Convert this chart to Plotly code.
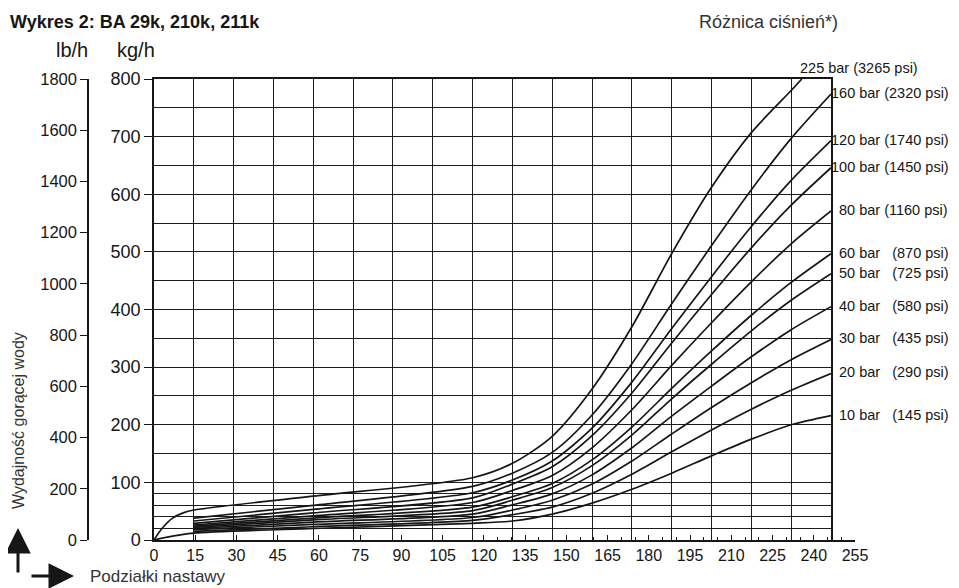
import plotly.graph_objects as go

# ---------------- data ----------------
x_ticks = list(range(0, 256, 15))              # Podziałki nastawy
x_minor = [v for v in range(125, 255, 5) if v % 15 != 0]
kg_ticks = list(range(0, 801, 100))            # kg/h
lb_ticks = list(range(0, 1801, 200))           # lb/h
kg_minor = [20, 40, 60, 80, 150, 250, 350, 450, 550, 650, 750]

bars = [225, 160, 120, 100, 80, 60, 50, 40, 30, 20, 10]
psi = [3265, 2320, 1740, 1450, 1160, 870, 725, 580, 435, 290, 145]

x_225 = [0, 3, 7, 11, 15, 60, 120, 135, 150, 165, 180, 195, 210, 225, 240, 244]
y_225 = [0, 20, 38, 47, 52, 76, 108, 133, 180, 262, 370, 497, 612, 707, 780, 800]

x_std = [15, 60, 120, 135, 150, 165, 180, 195, 210, 225, 240, 255]
y_160 = [38, 60, 93, 116, 152, 217, 306, 410, 511, 608, 697, 774]
y_120 = [33, 53, 82, 104, 137, 194, 274, 367, 457, 544, 624, 693]
y_100 = [29, 47, 73, 97, 127, 181, 255, 342, 426, 507, 581, 646]
y_80 = [26, 42, 65, 86, 112, 160, 226, 303, 377, 448, 514, 571]
y_60 = [24, 38, 57, 75, 98, 139, 196, 263, 328, 390, 447, 497]
y_50 = [22, 35, 51, 69, 91, 129, 182, 245, 305, 363, 416, 462]
y_40 = [20, 31, 45, 61, 80, 113, 160, 215, 267, 318, 365, 405]
y_30 = [18, 27, 39, 52, 69, 97, 137, 184, 230, 273, 313, 348]
y_20 = [15, 23, 34, 44, 57, 81, 114, 153, 191, 227, 260, 289]

x_10 = [0, 5, 10, 15, 60, 120, 135, 150, 165, 180, 195, 210, 225, 240, 255]
y_10 = [0, 5, 9, 12, 20, 29, 33, 45, 64, 88, 116, 146, 175, 200, 216]

series_x = [x_225, x_std, x_std, x_std, x_std, x_std, x_std, x_std, x_std, x_std, x_10]
series_y = [y_225, y_160, y_120, y_100, y_80, y_60, y_50, y_40, y_30, y_20, y_10]

# ---------------- layout geometry (page pixels; body has 8px margin) ----------------
OFF = 8
W, H = 959 - OFF, 588 - OFF
P_L, P_R, P_T, P_B = 30, 855, 79, 540      # paper box in page pixels
ML, MR, MT, MB = P_L - OFF, W - (P_R - OFF), P_T - OFF, H - (P_B - OFF)
PW = P_R - P_L
PH = P_B - P_T


def px_x(p):
    return (p - P_L) / PW


def px_y(p):
    return (P_B - p) / PH


INK = "#161616"
GRIDC = "#1c1c1c"
x0 = px_x(154)
x1 = px_x(831)

fig = go.Figure()

for xs, ys, b in zip(series_x, series_y, bars):
    fig.add_trace(go.Scatter(
        x=xs, y=ys, mode="lines", xaxis="x2", yaxis="y",
        line=dict(color=INK, width=1.7, shape="spline", smoothing=0.8),
        showlegend=False, hoverinfo="skip", name=f"{b} bar"))

# helper traces so that every axis is drawn
fig.add_trace(go.Scatter(x=[None], y=[None], xaxis="x", yaxis="y3",
                         mode="lines", showlegend=False, hoverinfo="skip"))
fig.add_trace(go.Scatter(x=[None], y=[None], xaxis="x2", yaxis="y2",
                         mode="lines", showlegend=False, hoverinfo="skip"))

annotations = []
for xs, ys, b, p in zip(series_x, series_y, bars, psi):
    if b >= 80:
        txt = f"{b} bar ({p} psi)"
    else:
        txt = f"{b} bar\u00a0\u00a0\u00a0({p} psi)"
    if b == 225:
        annotations.append(dict(x=xs[-1], y=ys[-1], xref="x2", yref="y",
                                text=txt, showarrow=False, xanchor="left",
                                yanchor="middle", xshift=-4, yshift=11,
                                font=dict(size=14.5, color=INK)))
    else:
        annotations.append(dict(x=xs[-1], y=ys[-1], xref="x2", yref="y",
                                text=txt, showarrow=False, xanchor="left",
                                yanchor="middle",
                                xshift=(-2 if b >= 100 else 6), yshift=1,
                                font=dict(size=14.5, color=INK)))

annotations += [
    dict(x=px_x(72), y=px_y(50), xref="paper", yref="paper", text="lb/h",
         xanchor="center", yanchor="middle", showarrow=False,
         font=dict(size=20, color=INK)),
    dict(x=px_x(136), y=px_y(50), xref="paper", yref="paper", text="kg/h",
         xanchor="center", yanchor="middle", showarrow=False,
         font=dict(size=20, color=INK)),
    dict(x=px_x(768), y=px_y(22), xref="paper", yref="paper",
         text="Różnica ciśnień*)", xanchor="center", yanchor="middle",
         showarrow=False, font=dict(size=18, color="#333")),
    dict(x=px_x(19), y=px_y(421), xref="paper", yref="paper",
         text="Wydajność gorącej wody", textangle=-90, xanchor="center",
         yanchor="middle", showarrow=False,
         font=dict(size=16, color="#333")),
    dict(x=px_x(88), y=px_y(576), xref="paper", yref="paper",
         text="Podziałki nastawy", showarrow=False, xanchor="left",
         yanchor="middle", font=dict(size=17, color="#333")),
    dict(x=px_x(18), y=px_y(528), xref="paper", yref="paper", text="",
         showarrow=True, ax=0, ay=46, arrowhead=2, arrowsize=1.7,
         arrowwidth=3, arrowcolor=INK),
    dict(x=px_x(74), y=px_y(576), xref="paper", yref="paper", text="",
         showarrow=True, ax=-44, ay=0, arrowhead=2, arrowsize=1.7,
         arrowwidth=3, arrowcolor=INK),
]

fig.update_layout(
    width=W, height=H,
    margin=dict(l=ML, r=MR, t=MT, b=MB, pad=0, autoexpand=False),
    paper_bgcolor="white", plot_bgcolor="rgba(0,0,0,0)",
    showlegend=False,
    font=dict(family="Liberation Sans, Arial, sans-serif", size=15, color=INK),
    title=dict(text="<b>Wykres 2: BA 29k, 210k, 211k</b>", xref="container",
               yref="container", x=(10 - OFF) / W, xanchor="left",
               y=1 - (22 - OFF) / H, yanchor="middle",
               font=dict(size=18, color=INK)),
    xaxis=dict(domain=[x0, 1], range=[0, 255], anchor="y3",
               tickvals=x_ticks, ticktext=[str(v) for v in x_ticks],
               ticks="inside", ticklen=5, tickwidth=1.3, tickcolor=INK,
               minor=dict(tickvals=x_minor, ticks="inside", ticklen=3,
                          tickwidth=1, tickcolor=INK, showgrid=False),
               showline=True, linecolor=INK, linewidth=1.5,
               showgrid=False, zeroline=False,
               tickfont=dict(size=16, color=INK)),
    xaxis2=dict(domain=[x0, x1], range=[0, 255], anchor="y",
                tickvals=x_ticks, showticklabels=False, ticks="",
                showgrid=True, gridcolor=GRIDC, gridwidth=1.2,
                showline=True, mirror=True, linecolor=INK, linewidth=1.5,
                zeroline=False),
    yaxis=dict(domain=[0, 1], range=[0, 800], anchor="x2",
               tickvals=kg_ticks, ticks="outside", ticklen=8, tickwidth=1.3,
               tickcolor=INK, showgrid=True, gridcolor=GRIDC, gridwidth=1.2,
               minor=dict(tickvals=kg_minor, showgrid=True, gridcolor=GRIDC,
                          gridwidth=1.2, ticks=""),
               showline=True, mirror=True, linecolor=INK, linewidth=1.5,
               zeroline=False, tickfont=dict(size=18, color=INK)),
    yaxis2=dict(range=[0, 1800], overlaying="y", anchor="free",
                position=px_x(88), side="left", tickvals=lb_ticks,
                ticks="outside", ticklen=7, tickwidth=1.3, tickcolor=INK,
                showline=True, linecolor=INK, linewidth=1.5,
                showgrid=False, zeroline=False,
                tickfont=dict(size=16.5, color=INK)),
    yaxis3=dict(domain=[0, 1], range=[0, 800], anchor="x", visible=False,
                showgrid=False, zeroline=False),
    annotations=annotations,
)

fig.write_html("out.html")
